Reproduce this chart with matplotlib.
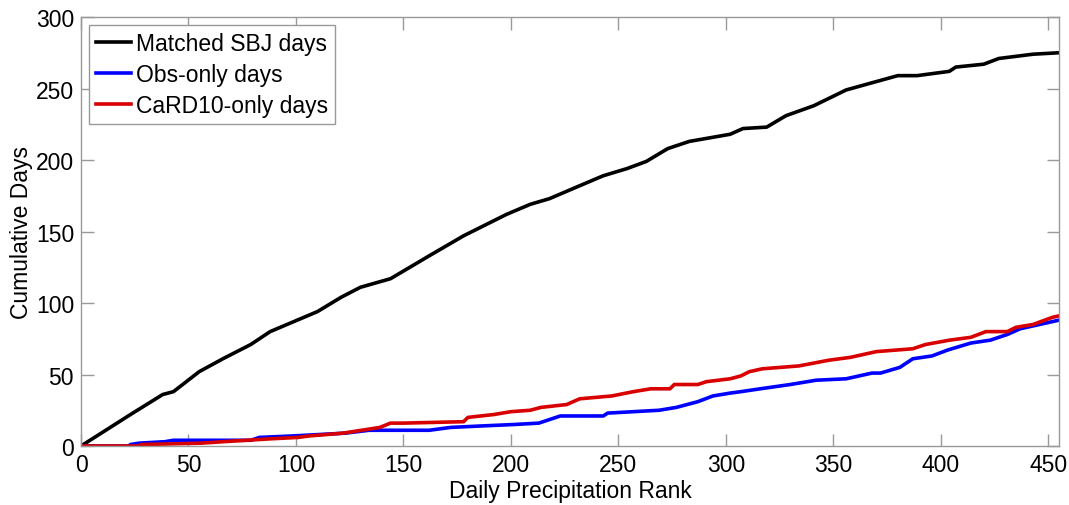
import matplotlib
matplotlib.use("Agg")
import matplotlib.pyplot as plt

plt.rcParams['font.family'] = ['Liberation Sans', 'DejaVu Sans']

# cumulative day counts vs. daily precipitation rank (breakpoints)
matched_rank = [0, 23, 38, 43, 55, 66, 79, 88, 99, 110, 121, 130, 144, 162, 178, 186,
                198, 209, 218, 232, 243, 254, 263, 273, 283, 302, 308, 319, 328, 341,
                356, 380, 389, 404, 407, 420, 427, 443, 455]
matched_days = [0, 22, 36, 38, 52, 61, 71, 80, 87, 94, 104, 111, 117, 133, 147, 153,
                162, 169, 173, 182, 189, 194, 199, 208, 213, 218, 222, 223, 231, 238,
                249, 259, 259, 262, 265, 267, 271, 274, 275]

obs_rank = [0, 22, 23, 27, 39, 43, 79, 83, 98, 123, 134, 162, 172, 186, 201, 213, 217,
            223, 243, 245, 269, 277, 287, 294, 302, 307, 316, 330, 342, 356, 362, 368,
            372, 381, 387, 396, 403, 414, 423, 431, 437, 446, 455]
obs_days = [0, 0, 1, 2, 3, 4, 4, 6, 7, 9, 11, 11, 13, 14, 15, 16, 18,
            21, 21, 23, 25, 27, 31, 35, 37, 38, 40, 43, 46, 47, 49, 51,
            51, 55, 61, 63, 67, 72, 74, 78, 82, 85, 88]

card_rank = [0, 27, 28, 56, 66, 88, 101, 106, 122, 139, 144, 150, 178, 180, 192, 200,
             209, 214, 226, 232, 247, 257, 265, 274, 276, 287, 291, 302, 307, 311, 317,
             334, 348, 358, 370, 387, 393, 404, 414, 421, 431, 435, 443, 452, 455]
card_days = [0, 0, 1, 2, 3, 5, 6, 7, 9, 13, 16, 16, 17, 20, 22, 24,
             25, 27, 29, 33, 35, 38, 40, 40, 43, 43, 45, 47, 49, 52, 54,
             56, 60, 62, 66, 68, 71, 74, 76, 80, 80, 83, 85, 90, 91]

fs = 16.5

fig = plt.figure(figsize=(10.69, 5.06), dpi=100)
ax = fig.add_axes([0.0758, 0.1166, 0.9148, 0.8478])

ax.plot(matched_rank, matched_days, color='black', lw=2.6, label='Matched SBJ days')
ax.plot(obs_rank, obs_days, color=(0, 0, 1), lw=2.6, label='Obs-only days')
ax.plot(card_rank, card_days, color=(0.85, 0, 0), lw=2.6, label='CaRD10-only days')

ax.set_xlim(0, 455)
ax.set_ylim(0, 300)
ax.set_xticks(range(0, 451, 50))
ax.set_yticks(range(0, 301, 50))
ax.tick_params(direction='in', length=9, width=1, color='#999999',
               top=True, right=True, labelsize=fs, pad=5)
for s in ax.spines.values():
    s.set_color('#999999')
    s.set_linewidth(1)

ax.set_xlabel('Daily Precipitation Rank', fontsize=fs, labelpad=2)
ax.set_ylabel('Cumulative Days', fontsize=fs, labelpad=2)

leg = ax.legend(loc='upper left', fontsize=fs, fancybox=False, framealpha=1,
                edgecolor='#999999', handlelength=1.55, handletextpad=0.2,
                borderpad=0.3, labelspacing=0.35, borderaxespad=0.35)
leg.get_frame().set_linewidth(1)

fig.savefig('out.png', dpi=100)
